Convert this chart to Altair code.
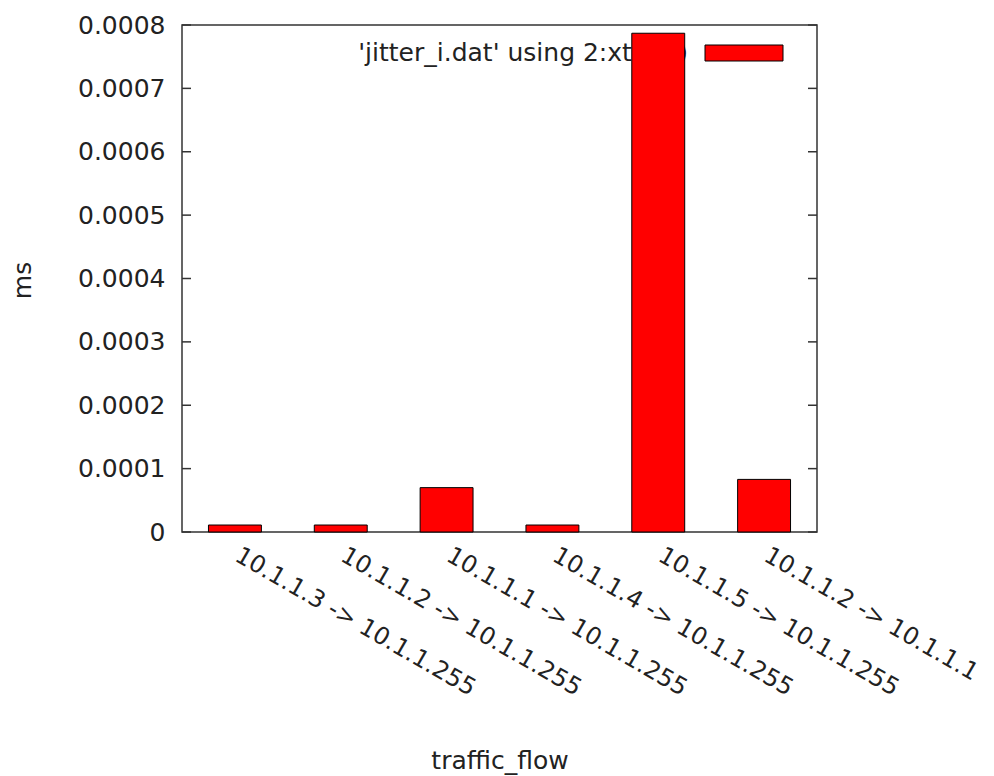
import altair as alt
import pandas as pd

flows = [
    "10.1.1.3 -> 10.1.1.255",
    "10.1.1.2 -> 10.1.1.255",
    "10.1.1.1 -> 10.1.1.255",
    "10.1.1.4 -> 10.1.1.255",
    "10.1.1.5 -> 10.1.1.255",
    "10.1.1.2 -> 10.1.1.1",
]
jitter = [0.000011, 0.000011, 0.00007, 0.000011, 0.000787, 0.000083]
y_ticks = [0, 0.0001, 0.0002, 0.0003, 0.0004, 0.0005, 0.0006, 0.0007, 0.0008]
legend_label = ["'jitter_i.dat' using 2:xtic(1)"]

FONT = "DejaVu Sans"
FS = 25
TXT = "#222222"
W, H = 635, 507

bars_df = pd.DataFrame({"flow": flows, "value": jitter})
ticks_df = pd.DataFrame({"value": y_ticks})
legend_df = pd.DataFrame({"label": legend_label})

y_scale = alt.Scale(domain=[0, 0.0008], nice=False, zero=True)
y_axis = alt.Axis(
    title="ms",
    values=y_ticks,
    format=".4~f",
    ticks=False,
    domain=False,
    grid=False,
    labelPadding=17,
    labelFont=FONT,
    labelFontSize=FS,
    labelColor=TXT,
    titleFont=FONT,
    titleFontSize=FS,
    titleFontWeight="normal",
    titleColor=TXT,
    titleX=-160,
    titleY=255,
    titleAngle=270,
    titleAlign="center",
    titleBaseline="middle",
)

legend_text = alt.Chart(legend_df).mark_text(
    align="right", baseline="middle", font=FONT, fontSize=FS, color=TXT
).encode(text="label:N", x=alt.value(506), y=alt.value(28))

legend_swatch = alt.Chart(legend_df).mark_rect(
    color="#ff0000", stroke="#000000", strokeWidth=1
).encode(x=alt.value(523), x2=alt.value(601), y=alt.value(20), y2=alt.value(36))

left_ticks = alt.Chart(ticks_df).mark_rule(color="#333333", strokeWidth=1.5).encode(
    y=alt.Y("value:Q", scale=y_scale, axis=y_axis), x=alt.value(0), x2=alt.value(9)
)
right_ticks = alt.Chart(ticks_df).mark_rule(color="#333333", strokeWidth=1.5).encode(
    y=alt.Y("value:Q", scale=y_scale, axis=y_axis), x=alt.value(W - 9), x2=alt.value(W)
)

bars = alt.Chart(bars_df).mark_bar(
    color="#ff0000", stroke="#000000", strokeWidth=1
).encode(
    x=alt.X(
        "flow:N",
        sort=None,
        scale=alt.Scale(paddingInner=0.5, paddingOuter=0.25),
        axis=alt.Axis(
            title="traffic_flow",
            labelAngle=30,
            labelAlign="left",
            labelBaseline="top",
            labelPadding=11,
            labelOffset=8,
            labelLimit=0,
            labelOverlap=False,
            ticks=False,
            domain=False,
            labelFont=FONT,
            labelFontSize=24,
            labelColor=TXT,
            titleFont=FONT,
            titleFontSize=FS,
            titleFontWeight="normal",
            titleColor=TXT,
            titleX=W / 2,
            titleY=236,
            titleAlign="center",
            titleBaseline="alphabetic",
        ),
    ),
    y=alt.Y("value:Q", scale=y_scale, axis=y_axis),
)

chart = (
    alt.layer(legend_text, legend_swatch, left_ticks, right_ticks, bars)
    .properties(
        width=W,
        height=H,
        autosize=alt.AutoSizeParams(type="none"),
        padding={"left": 174, "top": 17, "right": 169, "bottom": 244},
        background="white",
    )
    .configure_view(stroke="#333333", strokeWidth=1.5)
)

chart.save("out.html", embed_options={"renderer": "svg", "actions": False})
